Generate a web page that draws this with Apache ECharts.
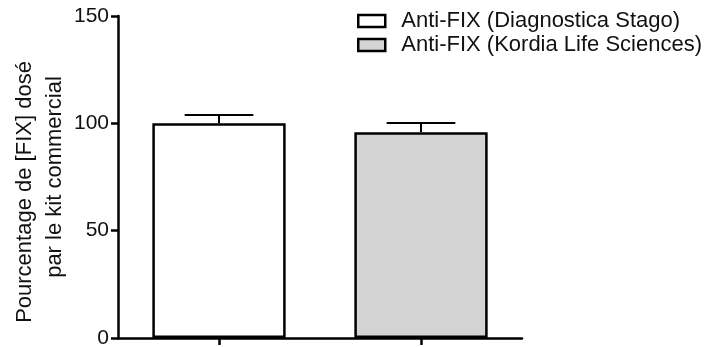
<!DOCTYPE html>
<html>
<head>
<meta charset="utf-8">
<script src="https://cdn.jsdelivr.net/npm/echarts@6/dist/echarts.min.js"></script>
<style>
  html, body { margin: 0; padding: 0; background: #fff; }
  #chart { width: 713px; height: 347px; }
</style>
</head>
<body>
<div id="chart"></div>
<script>
// données
var seriesNames = ['Anti-FIX (Diagnostica Stago)', 'Anti-FIX (Kordia Life Sciences)'];
var categories = ['Diagnostica Stago', 'Kordia Life Sciences'];
var moyennes = [100.0, 95.8];
var erreurs = [3.9, 4.4];
var couleurs = ['#ffffff', '#d4d4d4'];
var yTicks = [0, 50, 100, 150];
var titreY = ['Pourcentage de [FIX] dosé', 'par le kit commercial'];

var font = 'Liberation Sans, Arial, Helvetica, sans-serif';
var chart = echarts.init(document.getElementById('chart'));

// une série par barre pour avoir la légende
var barSeries = seriesNames.map(function (nom, i) {
    var d = categories.map(function (c, j) { return j === i ? moyennes[j] : '-'; });
    return {
        name: nom,
        type: 'bar',
        stack: 'tot',
        barWidth: '66%',
        data: d,
        itemStyle: { color: couleurs[i], borderColor: '#000', borderWidth: 2.5 },
        silent: true
    };
});

var errData = categories.map(function (c, i) { return [i, moyennes[i], erreurs[i]]; });

var option = {
    animation: false,
    color: couleurs,
    grid: { left: 118, right: 191, top: 16, bottom: 9, outerBoundsMode: 'none' },
    legend: {
        data: seriesNames,
        orient: 'vertical',
        left: 352,
        top: 5,
        itemWidth: 27,
        itemHeight: 12,
        itemGap: 2,
        icon: 'rect',
        itemStyle: { borderColor: '#000', borderWidth: 2.5 },
        textStyle: { fontFamily: font, fontSize: 22, color: '#111', padding: [0, 0, 0, 11] }
    },
    // titre de l'axe Y, deux lignes
    graphic: [
        { type: 'text', x: 25, y: 192, rotation: Math.PI / 2,
          style: { text: titreY[0], font: '22px ' + font, fill: '#111', align: 'center', verticalAlign: 'middle' } },
        { type: 'text', x: 55, y: 177, rotation: Math.PI / 2,
          style: { text: titreY[1], font: '22px ' + font, fill: '#111', align: 'center', verticalAlign: 'middle' } }
    ],
    xAxis: {
        type: 'category',
        data: categories,
        axisLine: { lineStyle: { color: '#000', width: 2.5 } },
        axisTick: { show: true, interval: 0, alignWithLabel: true, length: 7, lineStyle: { color: '#000', width: 2.5 } },
        axisLabel: { show: true, interval: 0, formatter: function () { return ''; } },
        splitLine: { show: false }
    },
    yAxis: {
        type: 'value',
        min: yTicks[0],
        max: yTicks[yTicks.length - 1],
        interval: 50,
        axisLine: { show: true, lineStyle: { color: '#000', width: 2.5 } },
        axisTick: { show: true, length: 7, lineStyle: { color: '#000', width: 2.5 } },
        axisLabel: { fontFamily: font, fontSize: 21, color: '#111', margin: 9 },
        splitLine: { show: false }
    },
    series: barSeries.concat([{
        type: 'custom',
        silent: true,
        z: 1,
        renderItem: function (params, api) {
            var x = api.value(0);
            var haut = api.coord([x, api.value(1)]);
            var bout = api.coord([x, api.value(1) + api.value(2)]);
            var demi = api.size([1, 0])[0] * 0.17;
            var st = { stroke: '#000', lineWidth: 2 };
            return {
                type: 'group',
                children: [
                    { type: 'line', shape: { x1: haut[0], y1: haut[1], x2: bout[0], y2: bout[1] }, style: st },
                    { type: 'line', shape: { x1: bout[0] - demi, y1: bout[1], x2: bout[0] + demi, y2: bout[1] }, style: st }
                ]
            };
        },
        data: errData
    }])
};
chart.setOption(option);
window.addEventListener('resize', function () {
    chart.resize();
});
</script>
</body>
</html>
